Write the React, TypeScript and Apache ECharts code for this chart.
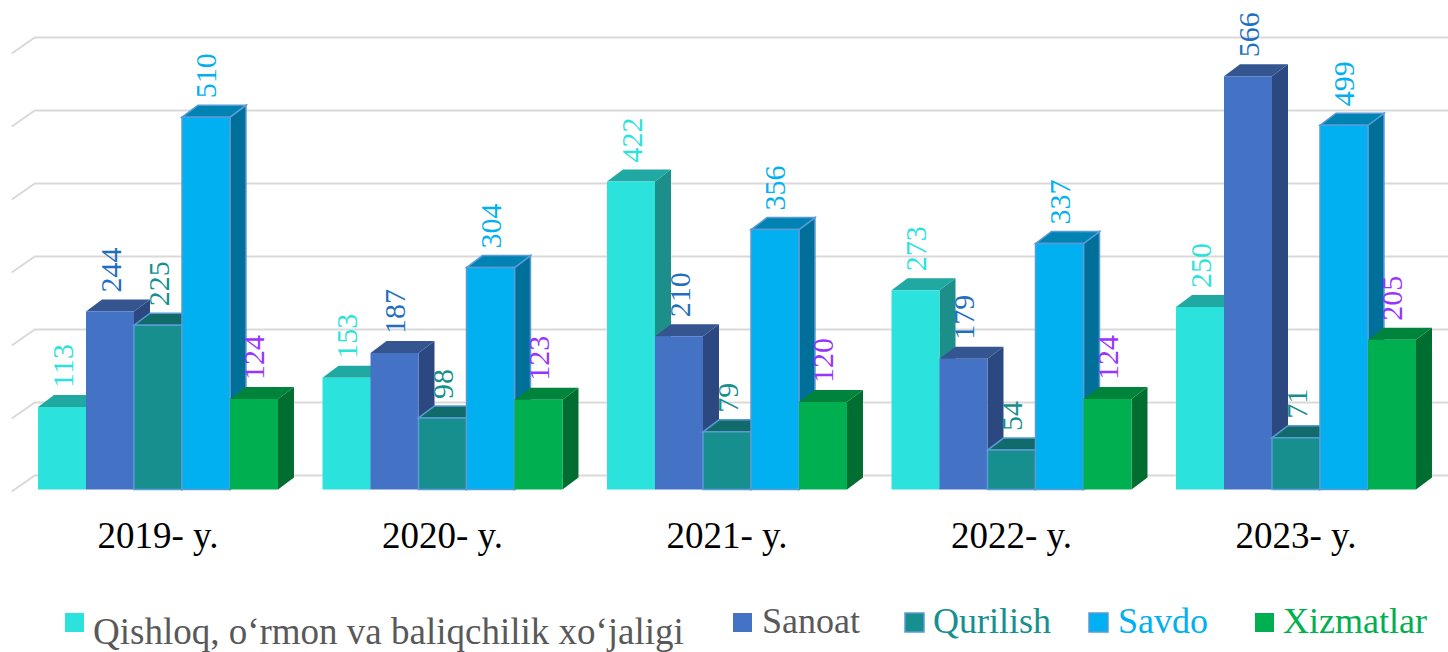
import React, { useEffect, useRef } from "react";
import * as echarts from "echarts";

const categories = ["2019- y.", "2020- y.", "2021- y.", "2022- y.", "2023- y."];
const seriesNames = ["Qishloq, o‘rmon va baliqchilik xo‘jaligi", "Sanoat", "Qurilish", "Savdo", "Xizmatlar"];
const qishloq = [113, 153, 422, 273, 250];
const sanoat = [244, 187, 210, 179, 566];
const qurilish = [225, 98, 79, 54, 71];
const savdo = [510, 304, 356, 337, 499];
const xizmatlar = [124, 123, 120, 124, 205];
const gridTicks = [0, 100, 200, 300, 400, 500, 600];

const allValues = [qishloq, sanoat, qurilish, savdo, xizmatlar];

const styles = [
  { front: "#2CE2DC", top: "#20A8A2", side: "#1C8F8B", label: "#2CE2DC", stroke: null, legendText: "#595959" },
  { front: "#4472C4", top: "#34558F", side: "#2C4880", label: "#1F6FC0", stroke: null, legendText: "#595959" },
  { front: "#168F8E", top: "#116B6A", side: "#0F5F5E", label: "#168F8E", stroke: "#5B9BD5", legendText: "#168F8E" },
  { front: "#00B0F0", top: "#0083B3", side: "#00709A", label: "#00B0F0", stroke: "#5B9BD5", legendText: "#00B0F0" },
  { front: "#00B050", top: "#00833B", side: "#006E31", label: "#9933FF", stroke: null, legendText: "#00B050" },
];

const FONT = "Liberation Serif";
const DX = 16;
const DY = 12;
const BAR_FRAC = 0.1687;

function barGeom(api: any, i: number) {
  const cat = api.value(0);
  const v = api.value(1);
  const base = api.coord([cat, 0]);
  const top = api.coord([cat, v]);
  const band = api.size([1, 0])[0];
  const bw = band * BAR_FRAC;
  const x0 = base[0] + (i - 2.5) * bw;
  return { x0, x1: x0 + bw, bw, yb: base[1], yt: top[1], v };
}

const legendItems = [
  { icon: [65, 613], text: [93, 631], size: 37 },
  { icon: [733, 613], text: [762, 621], size: 36 },
  { icon: [905, 613], text: [933, 621], size: 36 },
  { icon: [1089, 613], text: [1118, 621], size: 36 },
  { icon: [1255, 613], text: [1283, 621], size: 36 },
];

export default function App() {
  const ref = useRef<HTMLDivElement>(null);
  useEffect(() => {
    if (!ref.current) return;
    const chart = echarts.init(ref.current, null, { renderer: "svg" });

    const gridSeries: any = {
      type: "custom",
      name: "grid",
      z: 1,
      clip: false,
      silent: true,
      encode: { x: 0, y: 1 },
      data: gridTicks.map((t) => [0, t]),
      renderItem: (params: any, api: any) => {
        const cs = params.coordSys;
        const y = api.coord([0, api.value(1)])[1] - 14;
        return {
          type: "polyline",
          shape: {
            points: [
              [cs.x - 4, y + 16],
              [cs.x + 19, y],
              [cs.x + cs.width + 12, y],
            ],
          },
          style: { stroke: "#D9D9D9", lineWidth: 2, fill: null },
        };
      },
    };

    const barSeries = allValues.map((arr, i) => {
      const s = styles[i];
      return {
        type: "custom",
        name: seriesNames[i],
        z: 2 + i,
        clip: false,
        encode: { x: 0, y: 1 },
        data: arr.map((v, j) => [j, v]),
        renderItem: (params: any, api: any) => {
          const g = barGeom(api, i);
          const strokeStyle = s.stroke ? { stroke: s.stroke, lineWidth: 1.5 } : {};
          return {
            type: "group",
            children: [
              {
                type: "polygon",
                shape: {
                  points: [
                    [g.x1, g.yt],
                    [g.x1 + DX, g.yt - DY],
                    [g.x1 + DX, g.yb - DY],
                    [g.x1, g.yb],
                  ],
                },
                style: { fill: s.side, ...strokeStyle },
              },
              {
                type: "polygon",
                shape: {
                  points: [
                    [g.x0, g.yt],
                    [g.x0 + DX, g.yt - DY],
                    [g.x1 + DX, g.yt - DY],
                    [g.x1, g.yt],
                  ],
                },
                style: { fill: s.top, ...strokeStyle },
              },
              {
                type: "rect",
                shape: { x: g.x0, y: g.yt, width: g.bw, height: g.yb - g.yt },
                style: { fill: s.front, ...strokeStyle },
              },
            ],
          };
        },
      };
    });

    const labelSeries = allValues.map((arr, i) => {
      const s = styles[i];
      return {
        type: "custom",
        name: seriesNames[i] + " labels",
        z: 20,
        clip: false,
        silent: true,
        encode: { x: 0, y: 1 },
        data: arr.map((v, j) => [j, v]),
        renderItem: (params: any, api: any) => {
          const g = barGeom(api, i);
          return {
            type: "text",
            x: g.x0 + g.bw / 2,
            y: g.yt - DY - 7,
            rotation: Math.PI / 2,
            style: {
              text: String(g.v),
              fill: s.label,
              fontSize: 30,
              fontFamily: FONT,
              align: "left",
              verticalAlign: "middle",
            },
          };
        },
      };
    });

    const legendGraphics: any[] = [];
    legendItems.forEach((it, i) => {
      const s = styles[i];
      legendGraphics.push({
        type: "rect",
        shape: { x: it.icon[0], y: it.icon[1], width: 19, height: 19 },
        style: s.stroke ? { fill: s.front, stroke: s.stroke, lineWidth: 1.5 } : { fill: s.front },
      });
      legendGraphics.push({
        type: "text",
        x: it.text[0],
        y: it.text[1],
        style: {
          text: seriesNames[i],
          fill: s.legendText,
          fontSize: it.size,
          fontFamily: FONT,
          align: "left",
          verticalAlign: "middle",
        },
      });
    });

    chart.setOption({
      animation: false,
      backgroundColor: "#ffffff",
      grid: { left: 15.75, right: 9.75, top: 51.5, bottom: 162.5, containLabel: false },
      xAxis: {
        type: "category",
        data: categories,
        axisLine: { show: false },
        axisTick: { show: false },
        splitLine: { show: false },
        axisLabel: { fontSize: 37, color: "#000000", fontFamily: FONT, margin: 27 },
      },
      yAxis: {
        type: "value",
        min: 0,
        max: 600,
        interval: 100,
        axisLabel: { show: false },
        axisLine: { show: false },
        axisTick: { show: false },
        splitLine: { show: false },
      },
      graphic: legendGraphics,
      series: [gridSeries, ...barSeries, ...labelSeries],
    });
    return () => chart.dispose();
  }, []);
  return (
    <div
      ref={ref}
      style={{ position: "absolute", left: 0, top: 0, width: 1448, height: 652, background: "#fff" }}
    />
  );
}
